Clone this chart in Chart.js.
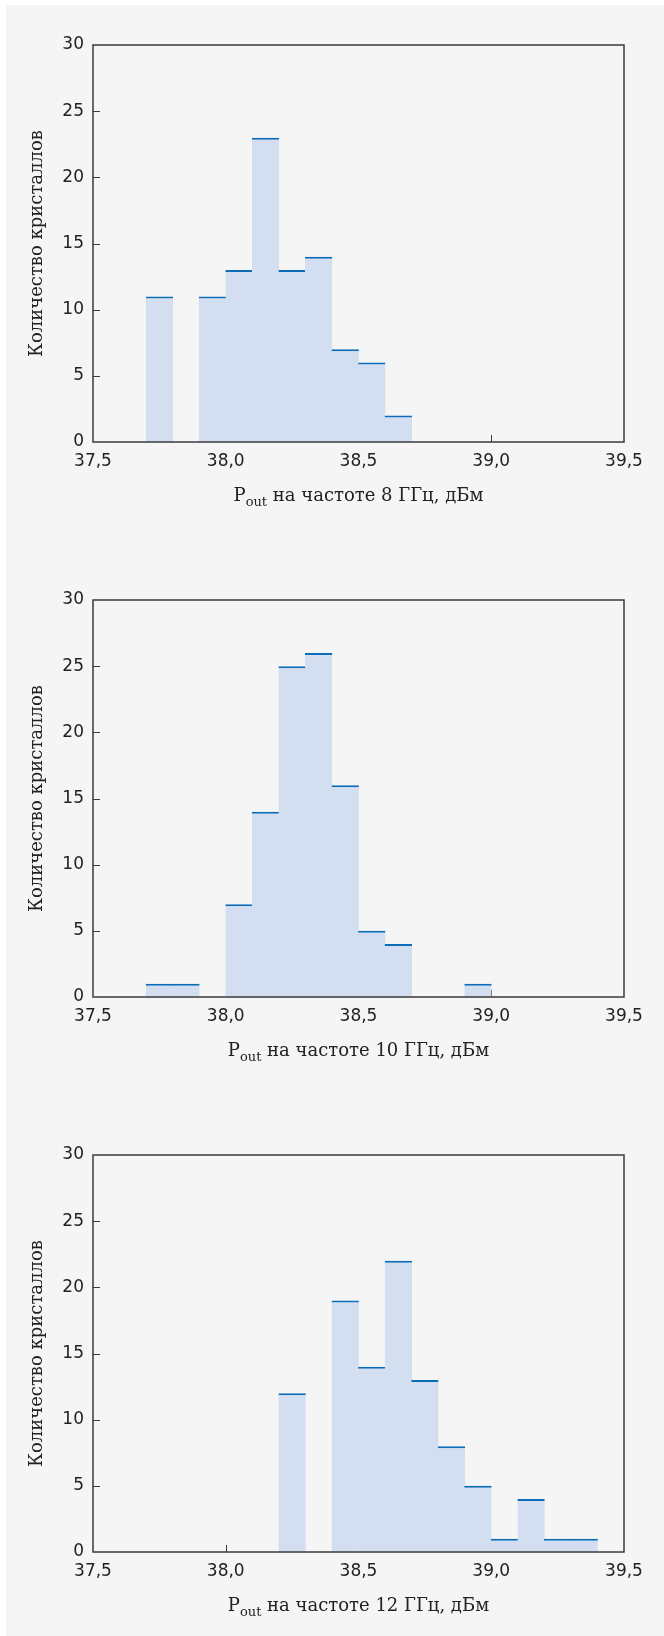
<!DOCTYPE html>
<html>
<head>
<meta charset="utf-8">
<script src="https://cdn.jsdelivr.net/npm/chart.js@4/dist/chart.umd.min.js"></script>
<style>
  html, body { margin: 0; padding: 0; background: #ffffff; }
  body { width: 664px; height: 1636px; position: relative; overflow: hidden; }
  #bg { position: absolute; left: 6px; top: 5px; width: 658px; height: 1631px; background: #f5f5f5; }
  .panel { position: absolute; left: 0; width: 664px; height: 555px; }
  .panel canvas { position: absolute; left: 0; top: 0; }
  .xtitle { position: absolute; left: 93px; width: 531px; top: 483px; text-align: center;
            font-family: "DejaVu Serif", serif; font-size: 18px; line-height: 24px; color: #222; white-space: nowrap; }
  .xtitle sub { font-size: 13px; vertical-align: -5px; line-height: 0; }
</style>
</head>
<body>
<div id="bg"></div>

<script>
// ---- Data (bin centres, width 0.1 dBm) ----
const binCenters8  = [37.75, 37.95, 38.05, 38.15, 38.25, 38.35, 38.45, 38.55, 38.65];
const counts8      = [11,    11,    13,    23,    13,    14,    7,     6,     2];

const binCenters10 = [37.75, 37.85, 38.05, 38.15, 38.25, 38.35, 38.45, 38.55, 38.65, 38.95];
const counts10     = [1,     1,     7,     14,    25,    26,    16,    5,     4,     1];

const binCenters12 = [38.25, 38.45, 38.55, 38.65, 38.75, 38.85, 38.95, 39.05, 39.15, 39.25, 39.35];
const counts12     = [12,    19,    14,    22,    13,    8,     5,     1,     4,     1,     1];

const xTickValues = [37.5, 38.0, 38.5, 39.0, 39.5];
const xTickLabels = ['37,5', '38,0', '38,5', '39,0', '39,5'];
const yTickValues = [0, 5, 10, 15, 20, 25, 30];
const yTickLabels = ['0', '5', '10', '15', '20', '25', '30'];

const yTitle = 'Количество кристаллов';
const freqLabels = ['8 ГГц', '10 ГГц', '12 ГГц'];

const panels = [
  { centers: binCenters8,  counts: counts8,  freq: freqLabels[0] },
  { centers: binCenters10, counts: counts10, freq: freqLabels[1] },
  { centers: binCenters12, counts: counts12, freq: freqLabels[2] }
];

const FILL = '#d3def1';
const EDGE = '#0b6cb8';
const AXIS = '#3a3a3a';

const framePlugin = {
  id: 'frame',
  beforeDatasetsDraw(chart) {
    const { ctx, chartArea: a, scales: { x, y } } = chart;
    ctx.save();
    ctx.strokeStyle = AXIS;
    ctx.lineWidth = 1;
    ctx.beginPath();
    yTickValues.forEach(v => {
      if (v > y.min && v < y.max) {
        const py = Math.round(y.getPixelForValue(v)) + 0.5;
        ctx.moveTo(a.left, py); ctx.lineTo(a.left + 7, py);
      }
    });
    xTickValues.forEach(v => {
      if (v > x.min && v < x.max) {
        const px = Math.round(x.getPixelForValue(v)) + 0.5;
        ctx.moveTo(px, a.bottom); ctx.lineTo(px, a.bottom - 7);
      }
    });
    ctx.stroke();
    ctx.restore();
  },
  afterDatasetsDraw(chart) {
    const { ctx, chartArea: a } = chart;
    ctx.save();
    ctx.lineWidth = 1.5;
    ctx.strokeStyle = AXIS;
    ctx.strokeRect(a.left, a.top, a.right - a.left, a.bottom - a.top);
    ctx.restore();
  }
};

panels.forEach((p, i) => {
  const wrap = document.createElement('div');
  wrap.className = 'panel';
  wrap.style.top = (i * 555) + 'px';
  const cv = document.createElement('canvas');
  cv.width = 664; cv.height = 555;
  cv.style.width = '664px'; cv.style.height = '555px';
  wrap.appendChild(cv);
  const t = document.createElement('div');
  t.className = 'xtitle';
  t.innerHTML = 'P<sub>out</sub> на частоте ' + p.freq + ', дБм';
  wrap.appendChild(t);
  document.body.appendChild(wrap);

  new Chart(cv.getContext('2d'), {
    type: 'bar',
    data: {
      datasets: [{
        data: p.centers.map((c, k) => ({ x: c, y: p.counts[k] })),
        backgroundColor: FILL,
        borderColor: EDGE,
        borderWidth: { top: 2, left: 0, right: 0, bottom: 0 },
        borderSkipped: 'bottom',
        inflateAmount: 0,
        barPercentage: 1.03,
        categoryPercentage: 1.0
      }]
    },
    options: {
      responsive: false,
      animation: false,
      devicePixelRatio: 1,
      layout: { padding: { left: 0, right: 40, top: 45, bottom: 0 } },
      plugins: { legend: { display: false }, tooltip: { enabled: false } },
      scales: {
        x: {
          type: 'linear',
          offset: false,
          min: 37.5, max: 39.5,
          afterBuildTicks(s) { s.ticks = xTickValues.map(v => ({ value: v })); },
          afterFit(s) { s.height = 113; },
          grid: { display: false, drawTicks: false },
          border: { display: false },
          ticks: {
            padding: 9,
            color: '#222',
            font: { family: 'DejaVu Sans', size: 17 },
            maxRotation: 0,
            autoSkip: false,
            callback: (v) => { const k = xTickValues.findIndex(t => Math.abs(t - v) < 1e-6); return k >= 0 ? xTickLabels[k] : ''; }
          }
        },
        y: {
          min: 0, max: 30,
          afterBuildTicks(s) { s.ticks = yTickValues.map(v => ({ value: v })); },
          afterFit(s) { s.width = 93; },
          grid: { display: false, drawTicks: false },
          border: { display: false },
          ticks: {
            padding: 9,
            color: '#222',
            font: { family: 'DejaVu Sans', size: 17 },
            callback: (v) => { const k = yTickValues.indexOf(v); return k >= 0 ? yTickLabels[k] : ''; }
          },
          title: {
            display: true,
            text: yTitle,
            color: '#222',
            font: { family: 'DejaVu Serif', size: 18 },
            padding: { top: 27, bottom: 0 }
          }
        }
      }
    },
    plugins: [framePlugin]
  });
});
</script>
</body>
</html>
